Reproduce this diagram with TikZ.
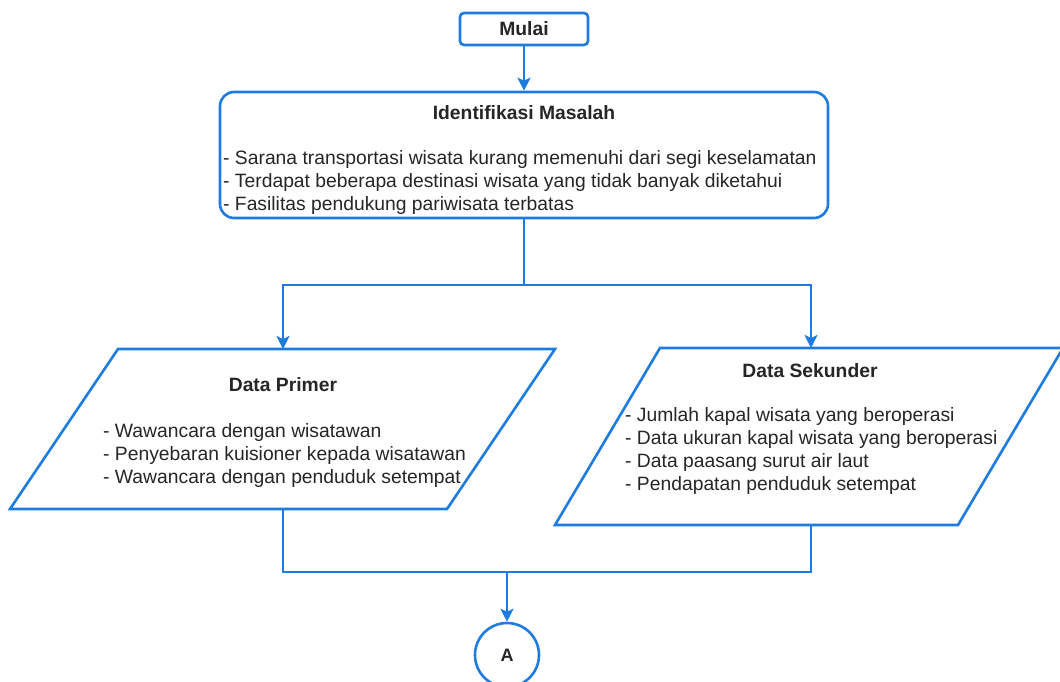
\documentclass[tikz,border=0pt]{standalone}
\usepackage{fontspec}
\setmainfont{Liberation Sans}
\usetikzlibrary{arrows.meta}
\definecolor{flowblue}{RGB}{30,124,224}
\definecolor{ink}{RGB}{38,38,38}
\begin{document}
\begin{tikzpicture}[x=1pt,y=-1pt,
  line/.style={draw=flowblue, line width=2.6pt},
  arrow/.style={line, -{Stealth[length=13pt,width=13pt,inset=3pt]}},
  body/.style={font=\fontsize{19.3}{23}\selectfont, text=ink, align=left, inner sep=0pt},
  head/.style={font=\fontsize{19.3}{22}\selectfont\bfseries, text=ink, inner sep=0pt},
]
\useasboundingbox[fill=white] (0,0) rectangle (1060,681);
\clip (0,0) rectangle (1060,681);

% start terminal
\node[line, rounded corners=4pt, minimum width=128pt, minimum height=32pt, head] (start) at (524,29) {Mulai};

% problem identification
\node[line, rounded corners=14pt, minimum width=608pt, minimum height=126pt] (ident) at (524,155) {};
\node[head] (identTitle) at (524,113) {Identifikasi Masalah};
\node[body, anchor=north west] (identList) at (223,150.7) {- Sarana transportasi wisata kurang memenuhi dari segi keselamatan\\- Terdapat beberapa destinasi wisata yang tidak banyak diketahui\\- Fasilitas pendukung pariwisata terbatas};

% primary data (parallelogram)
\coordinate (primerTop) at (283,349);
\coordinate (primerBot) at (283,509);
\draw[line] (118,349) -- (555,349) -- (447,509) -- (10,509) -- cycle;
\node[head] (primerTitle) at (283,385) {Data Primer};
\node[body, anchor=north west] (primerList) at (103,423.7) {- Wawancara dengan wisatawan\\- Penyebaran kuisioner kepada wisatawan\\- Wawancara dengan penduduk setempat};

% secondary data (parallelogram)
\coordinate (sekTop) at (811,348);
\coordinate (sekBot) at (811,525);
\draw[line] (660,348) -- (1063,348) -- (958,525) -- (555,525) -- cycle;
\node[head] (sekTitle) at (810,371) {Data Sekunder};
\node[body, anchor=north west] (sekList) at (625,407.7) {- Jumlah kapal wisata yang beroperasi\\- Data ukuran kapal wisata yang beroperasi\\- Data paasang surut air laut\\- Pendapatan penduduk setempat};

% off-page connector
\node[line, circle, minimum size=64pt, inner sep=0pt, font=\fontsize{18}{20}\selectfont\bfseries, text=ink] (connA) at (507,655) {A};

% connectors
\coordinate (split) at (524,285);
\coordinate (merge) at (507,572);
\draw[arrow] (start.south) -- (ident.north);
\draw[line] (ident.south) -- (split);
\draw[arrow] (split) -| (primerTop);
\draw[arrow] (split) -| (sekTop);
\draw[line] (primerBot) |- (merge);
\draw[line] (sekBot) |- (merge);
\draw[arrow] (merge) -- (connA.north);
\end{tikzpicture}
\end{document}
